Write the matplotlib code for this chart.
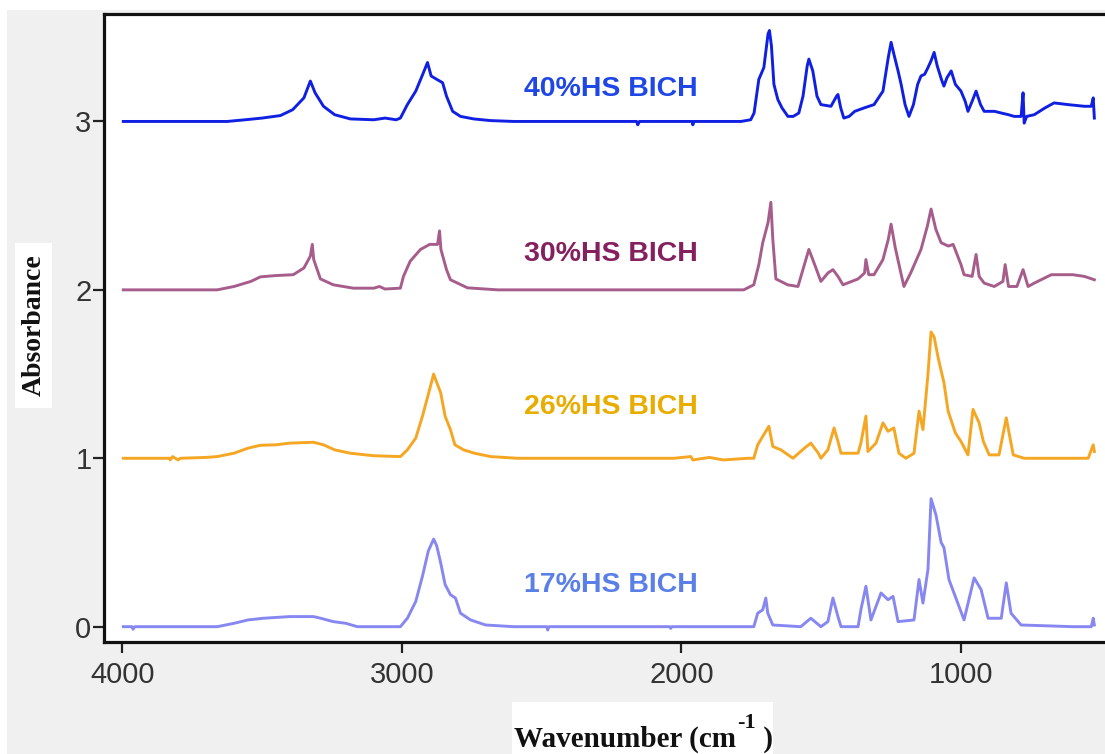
import matplotlib
matplotlib.use("Agg")
import matplotlib.pyplot as plt
from matplotlib.patches import Rectangle

# ---- spectra: (wavenumber, absorbance above each trace's own baseline) ----
wn_40 = [3996, 3624, 3560, 3500, 3434, 3390, 3350, 3327, 3310, 3280, 3240, 3184, 3100, 3060,
         3020, 3005, 2980, 2950, 2925, 2908, 2895, 2875, 2854, 2840, 2818, 2790, 2743, 2682,
         2600, 2160, 2156, 2150, 1962, 1959, 1955, 1787, 1752, 1740, 1723, 1705, 1690, 1685,
         1678, 1669, 1655, 1640, 1619, 1600, 1580, 1565, 1550, 1544, 1530, 1515, 1501, 1465,
         1445, 1440, 1430, 1419, 1400, 1380, 1347, 1311, 1279, 1260, 1250, 1240, 1225, 1214,
         1200, 1186, 1170, 1155, 1143, 1130, 1118, 1107, 1096, 1085, 1070, 1061, 1050, 1035,
         1020, 1000, 985, 975, 960, 946, 930, 917, 880, 856, 830, 810, 785, 778, 774, 765,
         738, 700, 667, 617, 559, 534, 527, 523]
ab_40 = [0, 0, 0.01, 0.02, 0.035, 0.07, 0.14, 0.24, 0.17, 0.09, 0.04, 0.015, 0.01, 0.02,
         0.01, 0.02, 0.10, 0.18, 0.28, 0.35, 0.27, 0.25, 0.23, 0.15, 0.06, 0.03, 0.015, 0.005,
         0, 0, -0.02, 0, 0, -0.02, 0, 0, 0.01, 0.05, 0.25, 0.32, 0.52, 0.54,
         0.45, 0.22, 0.13, 0.08, 0.03, 0.03, 0.05, 0.15, 0.33, 0.37, 0.30, 0.15, 0.10, 0.09,
         0.15, 0.16, 0.08, 0.02, 0.03, 0.06, 0.08, 0.10, 0.18, 0.38, 0.47, 0.40, 0.30, 0.22,
         0.10, 0.03, 0.10, 0.22, 0.27, 0.28, 0.32, 0.36, 0.41, 0.33, 0.25, 0.21, 0.26, 0.30,
         0.22, 0.18, 0.12, 0.06, 0.12, 0.18, 0.10, 0.06, 0.06, 0.05, 0.04, 0.03, 0.03, 0.17, -0.01, 0.03,
         0.04, 0.08, 0.11, 0.10, 0.09, 0.09, 0.14, 0.02]

wn_30 = [3996, 3660, 3600, 3540, 3506, 3450, 3388, 3350, 3327, 3320, 3315, 3291, 3245, 3173,
         3100, 3080, 3060, 3005, 2994, 2970, 2933, 2900, 2872, 2865, 2860, 2840, 2826, 2765,
         2657, 1777, 1741, 1723, 1709, 1690, 1680, 1673, 1662, 1620, 1583, 1560, 1544, 1530,
         1501, 1476, 1458, 1440, 1422, 1368, 1345, 1340, 1330, 1311, 1279, 1260, 1250, 1235,
         1215, 1204, 1180, 1143, 1120, 1107, 1090, 1071, 1045, 1028, 1000, 989, 960, 946,
         935, 917, 881, 850, 842, 830, 800, 778, 760, 738, 677, 600, 559, 523]
ab_30 = [0, 0, 0.02, 0.05, 0.077, 0.085, 0.09, 0.13, 0.20, 0.27, 0.18, 0.065, 0.03, 0.01,
         0.01, 0.02, 0.005, 0.01, 0.08, 0.17, 0.24, 0.27, 0.27, 0.35, 0.24, 0.12, 0.06, 0.012,
         0, 0, 0.03, 0.15, 0.28, 0.40, 0.52, 0.30, 0.065, 0.03, 0.02, 0.15, 0.24, 0.18,
         0.05, 0.10, 0.12, 0.08, 0.03, 0.065, 0.10, 0.18, 0.09, 0.09, 0.18, 0.30, 0.39, 0.25,
         0.10, 0.02, 0.10, 0.24, 0.38, 0.48, 0.36, 0.28, 0.26, 0.27, 0.15, 0.09, 0.08, 0.21,
         0.08, 0.04, 0.02, 0.05, 0.15, 0.02, 0.02, 0.12, 0.02, 0.04, 0.09, 0.09, 0.08, 0.06]

wn_26 = [3996, 3830, 3828, 3820, 3800, 3792, 3700, 3660, 3600, 3550, 3506, 3450, 3400, 3316,
         3280, 3240, 3184, 3100, 3005, 2980, 2950, 2926, 2905, 2886, 2875, 2861, 2845, 2826,
         2810, 2779, 2740, 2682, 2586, 2027, 1966, 1959, 1900, 1850, 1762, 1741, 1727, 1709,
         1687, 1673, 1644, 1601, 1560, 1537, 1510, 1501, 1476, 1454, 1440, 1429, 1368, 1358,
         1340, 1333, 1304, 1279, 1261, 1240, 1222, 1197, 1168, 1150, 1136, 1118, 1107, 1096,
         1082, 1071, 1061, 1046, 1020, 1000, 975, 957, 935, 920, 899, 864, 838, 828,
         813, 774, 600, 545, 527, 523]
ab_26 = [0, 0, -0.01, 0.01, -0.01, 0, 0.005, 0.01, 0.03, 0.06, 0.077, 0.08, 0.09, 0.095,
         0.08, 0.05, 0.03, 0.015, 0.01, 0.05, 0.12, 0.25, 0.38, 0.50, 0.45, 0.39, 0.25, 0.17,
         0.08, 0.05, 0.03, 0.01, 0, 0, 0.01, -0.01, 0.005, -0.01, 0, 0, 0.08, 0.13,
         0.19, 0.07, 0.05, 0, 0.06, 0.09, 0.03, 0, 0.05, 0.18, 0.10, 0.03, 0.03, 0.09,
         0.25, 0.04, 0.09, 0.21, 0.16, 0.18, 0.03, 0, 0.03, 0.28, 0.17, 0.50, 0.75, 0.72,
         0.60, 0.52, 0.45, 0.28, 0.15, 0.10, 0.02, 0.29, 0.21, 0.10, 0.02, 0.02, 0.24, 0.15,
         0.02, 0, 0, 0, 0.08, 0.04]

wn_17 = [3996, 3965, 3961, 3955, 3660, 3600, 3550, 3495, 3400, 3316, 3290, 3245, 3200, 3159,
         3005, 2980, 2950, 2926, 2905, 2886, 2875, 2861, 2845, 2826, 2808, 2790, 2754, 2700,
         2600, 2482, 2478, 2474, 2042, 2038, 2034, 1741, 1727, 1709, 1698, 1691, 1673, 1573,
         1537, 1501, 1476, 1458, 1440, 1429, 1368, 1358, 1340, 1322, 1286, 1261, 1243, 1225,
         1168, 1150, 1136, 1118, 1107, 1089, 1071, 1061, 1043, 989, 953, 928, 903, 856,
         838, 821, 785, 600, 534, 527, 523]
ab_17 = [0, 0, -0.015, 0, 0, 0.02, 0.04, 0.05, 0.06, 0.06, 0.05, 0.03, 0.02, 0,
         0, 0.05, 0.15, 0.30, 0.45, 0.52, 0.48, 0.38, 0.25, 0.19, 0.17, 0.08, 0.04, 0.01,
         0, 0, -0.02, 0, 0, -0.01, 0, 0, 0.08, 0.10, 0.17, 0.08, 0.01, 0,
         0.05, 0, 0.03, 0.17, 0.06, 0, 0, 0.10, 0.24, 0.04, 0.20, 0.16, 0.18, 0.03,
         0.04, 0.28, 0.14, 0.34, 0.76, 0.66, 0.50, 0.47, 0.28, 0.04, 0.29, 0.22, 0.05, 0.05,
         0.26, 0.08, 0.01, 0, 0, 0.05, 0.01]

labels = ["40%HS BICH", "30%HS BICH", "26%HS BICH", "17%HS BICH"]
offsets = [3, 2, 1, 0]
line_colors = ["#1020e2", "#a65d8c", "#f5a623", "#8787f2"]
text_colors = ["#1f47e6", "#85205e", "#e8ad00", "#5a7fe6"]
series = [(wn_40, ab_40), (wn_30, ab_30), (wn_26, ab_26), (wn_17, ab_17)]

x_ticks = [4000, 3000, 2000, 1000]
y_ticks = [0, 1, 2, 3]

W, H = 1105, 754
fig = plt.figure(figsize=(W / 100, H / 100), dpi=100, facecolor="white")

# grey panel behind the plot
fig.patches.append(Rectangle((7 / W, 0), 1 - 7 / W, (H - 10) / H,
                             transform=fig.transFigure, facecolor="#f0f0f0",
                             edgecolor="none", zorder=-5))

ax = fig.add_axes([104 / W, (H - 641.5) / H, 1 - 104 / W + 0.002, (641.5 - 14) / H])
ax.set_facecolor("white")
ax.set_zorder(2)

for (wn, ab), off, c in zip(series, offsets, line_colors):
    ax.plot(wn, [v + off for v in ab], color=c, lw=2.1, solid_joinstyle="round")

text_y = [3.19, 2.213, 1.305, 0.248]
for lab, ty, tc in zip(labels, text_y, text_colors):
    ax.text(2253, ty, lab, color=tc, fontsize=20.5, fontweight="bold",
            family="Liberation Sans", ha="center", va="center")

ax.set_xlim(4065, 477)
ax.set_ylim(-0.088, 3.638)
ax.set_xticks(x_ticks)
ax.set_yticks(y_ticks)
ax.tick_params(axis="both", direction="out", length=8, width=1.6, color="#222222",
               labelsize=21, labelcolor="#333333")
ax.tick_params(axis="y", pad=1)
ax.tick_params(axis="x", pad=6)
for t in ax.get_xticklabels() + ax.get_yticklabels():
    t.set_family("Liberation Sans")

for side in ["left", "top", "bottom"]:
    ax.spines[side].set_linewidth(2.3)
    ax.spines[side].set_color("#111111")
ax.spines["right"].set_visible(False)

# white boxes behind the axis titles
fig.patches.append(Rectangle((15 / W, (H - 408) / H), 37 / W, 165 / H,
                             transform=fig.transFigure, facecolor="white",
                             edgecolor="none", zorder=-4))
fig.patches.append(Rectangle((512 / W, 0), 261 / W, 52 / H,
                             transform=fig.transFigure, facecolor="white",
                             edgecolor="none", zorder=-4))

fig.text(34 / W, (H - 325) / H, "Absorbance", rotation=90, ha="center", va="center",
         fontsize=20, fontweight="bold", family="Liberation Serif", color="#111111")

# x title built from three pieces so the superscript keeps a plain hyphen
title_font = dict(fontweight="bold", family="Liberation Serif", color="#111111")
base_y = (H - 747) / H
t1 = fig.text(514 / W, base_y, "Wavenumber (cm", ha="left", va="baseline",
              fontsize=21, **title_font)
fig.canvas.draw()
r = fig.canvas.get_renderer()
x1 = t1.get_window_extent(r).x1
t2 = fig.text(x1 / W + 1 / W, (H - 728) / H, "-1", ha="left", va="baseline",
              fontsize=16, **title_font)
x2 = t2.get_window_extent(r).x1
fig.text(x2 / W, base_y, " )", ha="left", va="baseline", fontsize=21, **title_font)

fig.savefig("out.png", dpi=100, facecolor=fig.get_facecolor())
